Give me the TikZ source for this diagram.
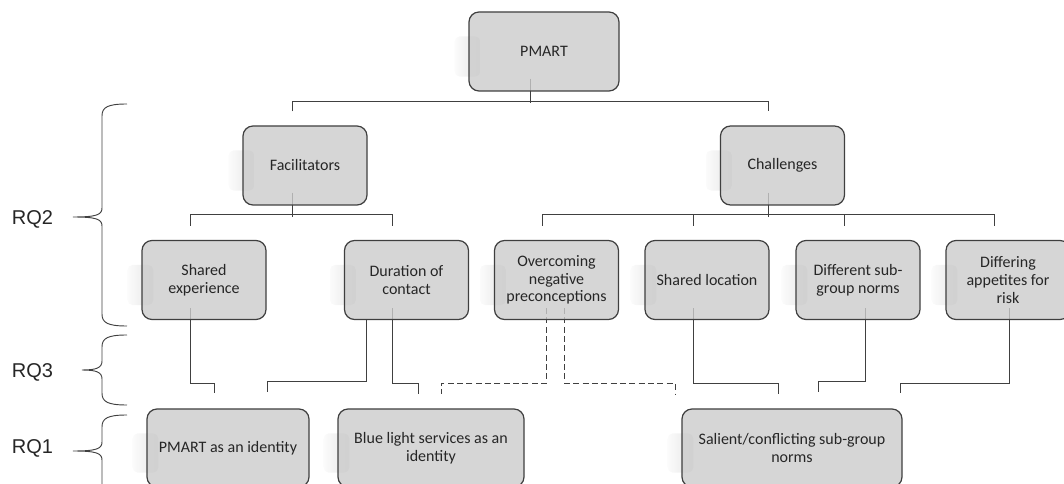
\documentclass[tikz,border=0pt]{standalone}
\usepackage{fontspec}
\setmainfont{Carlito}
\newfontfamily\rqfont{Liberation Sans}
\usetikzlibrary{calc,backgrounds}
\definecolor{boxfill}{HTML}{CCCCCC}
\definecolor{boxline}{HTML}{3F3F3F}
\definecolor{linkcol}{HTML}{404040}
\definecolor{inkcol}{HTML}{262626}
\tikzset{
  box/.style={draw=boxline, line width=0.9pt, fill=boxfill, fill opacity=0.8, text opacity=1,
    rounded corners=7.5pt, minimum width=93pt, minimum height=59.25pt, inner sep=2pt,
    align=center, text=inkcol, font=\fontsize{12}{13.3}\selectfont},
  link/.style={draw=linkcol, line width=0.75pt},
  dashlink/.style={link, dash pattern=on 4.5pt off 2.5pt},
  ghost/.style={left color=gray!3, right color=gray!20, draw=none, rounded corners=4pt},
  rqlabel/.style={font=\rqfont\fontsize{15}{18}\selectfont, text=inkcol},
  rqbrace/.style={draw=linkcol, line width=0.7pt}
}
\begin{document}
\begin{tikzpicture}[x={(0.75pt,0)}, y={(0,-0.75pt)}]
        \useasboundingbox (0,0) rectangle (1064,484);
        \node[box, minimum width=112.5pt] (pmart) at (544,51.5) {PMART};
        \node[box] (facil) at (305,165.5) {Facilitators};
        \node[box] (chall) at (782.5,165.5) {Challenges};
        \foreach \n/\x/\t in {shexp/204/{Shared\\experience}, durat/406.5/{Duration of\\contact},
            overc/556.5/{Overcoming\\negative\\preconceptions}, shloc/707/{Shared location},
            diffn/858/{Different sub-\\group norms}, diffa/1008/{Differing\\appetites for\\risk}}
            \node[box] (\n) at (\x,280) {\t};
        \node[box, minimum width=121.5pt, minimum height=58.5pt] (pmid) at (228,448) {PMART as an identity};
        \node[box, minimum width=139.5pt, minimum height=58.5pt] (blue) at (431,448) {Blue light services as an\\identity};
        \node[box, minimum width=165pt, minimum height=58.5pt] (sal) at (792,448) {Salient/conflicting sub-group\\norms};
        \begin{pgfonlayer}{background}
            \foreach \n in {pmart,facil,chall,shexp,durat,overc,shloc,diffn,diffa,pmid,blue,sal}
                \shade[ghost] ($(\n.north west)+(-14,25)$) rectangle ($(\n.south west)+(12,-15)$);
            % tree
            \draw[link] ($(pmart.south)+(-14,-13)$) -- ++(0,24);
            \draw[link] ($(facil.north)+(-13,-14)$) -- ++(0,-10) -| ($(chall.north)+(-14,-14)$);
            \draw[link] ($(facil.south)+(-13,-13)$) -- ++(0,24);
            \draw[link] ($(shexp.north)+(-14,-14)$) -- ++(0,-11) -| ($(durat.north)+(-14,-14)$);
            \draw[link] ($(chall.south)+(-14,-13)$) -- ++(0,24);
            \draw[link] ($(overc.north)+(-14,-14)$) -- ++(0,-11) -| ($(diffa.north)+(-14,-14)$);
            \foreach \n in {shloc,diffn}
                \draw[link] ($(\n.north)+(-14,-14)$) -- ++(0,-11);
            % themes to identities
            \draw[link] ($(shexp.south)+(-14,-12)$) |- ($(pmid.north)+(-14,-25)$) -- ++(0,10);
            \draw[link] ($(durat.south)+(-40,0)$) |- ($(pmid.north)+(39,-27)$) -- ++(0,11);
            \draw[link] ($(durat.south)+(-14,-12)$) |- ($(blue.north)+(-13,-25)$) -- ++(0,11);
            \draw[dashlink] ($(overc.south)+(-10,-12)$) |- ($(blue.north)+(10,-25)$) -- ++(0,11);
            \draw[dashlink] ($(overc.south)+(8,-12)$) |- ($(sal.north)+(-117,-25)$) -- ++(0,11);
            \draw[link] ($(shloc.south)+(-14,-12)$) |- ($(sal.north)+(-14,-25)$) -- ++(0,11);
            \draw[link] ($(diffn.south)+(7,-12)$) |- ($(sal.north)+(26,-27)$) -- ++(0,11);
            \draw[link] ($(diffa.south)+(1,-12)$) |- ($(sal.north)+(108,-25)$) -- ++(0,10);
        \end{pgfonlayer}
        % research questions
        \foreach \t/\m/\b/\k in {104/217/326/73, 335/370/405/82, 415/451/500/73}
            \draw[rqbrace] (127,\t) .. controls (108,\t) and (102,\t+3) .. (102,\t+12) -- (102,\m-9)
                .. controls (102,\m-2) and (96,\m) .. (\k,\m) .. controls (96,\m) and (102,\m+2) .. (102,\m+9)
                -- (102,\b-12) .. controls (102,\b-3) and (108,\b) .. (127,\b);
        \node[rqlabel] (rq2) at (32.5,219) {RQ2};
        \node[rqlabel] (rq3) at (32.5,372) {RQ3};
        \node[rqlabel] (rq1) at (32.5,448) {RQ1};
\end{tikzpicture}
\end{document}
